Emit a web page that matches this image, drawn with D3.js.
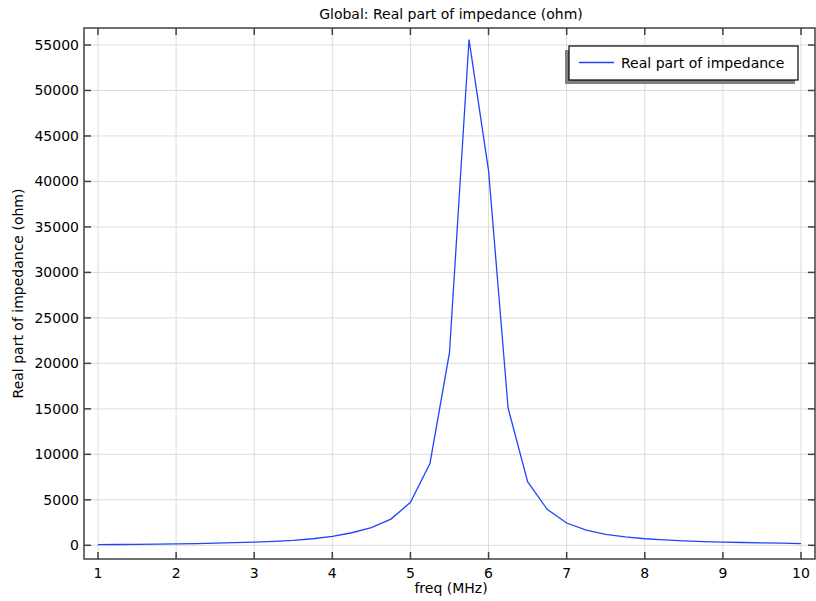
<!DOCTYPE html>
<meta charset="utf-8">
<style>
body { margin: 0; background: #fff; }
text { font-family: "DejaVu Sans", sans-serif; fill: #000; }
.grid line { stroke: #dcdcdc; stroke-width: 1; }
.frame { fill: none; stroke: #404040; stroke-width: 1.5; }
.tick { stroke: #404040; stroke-width: 1.5; }
</style>
<svg width="816" height="601"></svg>
<script src="https://d3js.org/d3.v7.min.js"></script>
<script>
// frequency (MHz) and real part of impedance (ohm)
var freq = [1, 1.25, 1.5, 1.75, 2, 2.25, 2.5, 2.75, 3, 3.25, 3.5, 3.75,
            4, 4.25, 4.5, 4.75, 5, 5.25, 5.5, 5.75, 6, 6.25, 6.5, 6.75,
            7, 7.25, 7.5, 7.75, 8, 8.25, 8.5, 8.75, 9, 9.25, 9.5, 9.75, 10];
var realZ = [70, 90, 110, 135, 165, 195, 235, 285, 350, 430, 540, 720,
             980, 1380, 1950, 2880, 4720, 9000, 21200, 55600, 41200, 15100, 7000, 3950,
             2450, 1680, 1200, 920, 720, 590, 490, 415, 355, 310, 270, 240, 195];

var xTicks = [1, 2, 3, 4, 5, 6, 7, 8, 9, 10];
var yTicks = [0, 5000, 10000, 15000, 20000, 25000, 30000, 35000, 40000, 45000, 50000, 55000];

var svg = d3.select("svg");
// plot box (note: "top" is taken by window.top, so use other names)
var boxL = 84, boxR = 815, boxT = 28, boxB = 559;

var x = d3.scaleLinear().domain([1, 10]).range([98, 801]);
var y = d3.scaleLinear().domain([0, 55000]).range([545.3, 45]);

//grid
var grid = svg.append("g").attr("class", "grid");
grid.selectAll(".gx").data(xTicks).enter().append("line")
    .attr("x1", d => x(d)).attr("x2", d => x(d))
    .attr("y1", boxT).attr("y2", boxB);
grid.selectAll(".gy").data(yTicks).enter().append("line")
    .attr("y1", d => y(d)).attr("y2", d => y(d))
    .attr("x1", boxL).attr("x2", boxR);

//the curve
var line = d3.line().x((d, i) => x(freq[i])).y(d => y(d));
svg.append("path").datum(realZ)
    .attr("d", line)
    .attr("fill", "none")
    .attr("stroke", "#1f45ff")
    .attr("stroke-width", 1.3);

//frame and inward ticks on all sides
svg.append("rect").attr("class", "frame")
    .attr("x", boxL).attr("y", boxT)
    .attr("width", boxR - boxL).attr("height", boxB - boxT);

var tl = 7;
var ticks = svg.append("g");
xTicks.forEach(function(d) {
  ticks.append("line").attr("class", "tick")
      .attr("x1", x(d)).attr("x2", x(d)).attr("y1", boxB).attr("y2", boxB - tl);
  ticks.append("line").attr("class", "tick")
      .attr("x1", x(d)).attr("x2", x(d)).attr("y1", boxT).attr("y2", boxT + tl);
});
yTicks.forEach(function(d) {
  ticks.append("line").attr("class", "tick")
      .attr("x1", boxL).attr("x2", boxL + tl).attr("y1", y(d)).attr("y2", y(d));
  ticks.append("line").attr("class", "tick")
      .attr("x1", boxR).attr("x2", boxR - tl).attr("y1", y(d)).attr("y2", y(d));
});

//tick labels
svg.append("g").selectAll("text").data(xTicks).enter().append("text")
    .attr("x", d => x(d)).attr("y", 578)
    .attr("text-anchor", "middle").style("font-size", "14px")
    .text(d => d);
svg.append("g").selectAll("text").data(yTicks).enter().append("text")
    .attr("x", 79).attr("y", d => y(d) + 5)
    .attr("text-anchor", "end").style("font-size", "14px")
    .text(d => d);

//titles
svg.append("text").attr("x", 451).attr("y", 19)
    .attr("text-anchor", "middle").style("font-size", "14px")
    .text("Global: Real part of impedance (ohm)");
svg.append("text").attr("x", 451).attr("y", 593)
    .attr("text-anchor", "middle").style("font-size", "14px")
    .text("freq (MHz)");
svg.append("text")
    .attr("transform", "translate(23," + ((boxT + boxB) / 2) + ") rotate(-90)")
    .attr("text-anchor", "middle").style("font-size", "14px")
    .text("Real part of impedance (ohm)");

//legend
var lg = svg.append("g");
lg.append("rect").attr("x", 565).attr("y", 50).attr("width", 230).attr("height", 34)
    .attr("fill", "#808080");
lg.append("rect").attr("x", 569).attr("y", 46).attr("width", 229).attr("height", 34)
    .attr("fill", "#fff").attr("stroke", "#000").attr("stroke-width", 1.2);
lg.append("line").attr("x1", 579).attr("x2", 614).attr("y1", 62.5).attr("y2", 62.5)
    .attr("stroke", "#1f45ff").attr("stroke-width", 1.3);
lg.append("text").attr("x", 621).attr("y", 67.5).style("font-size", "14px")
    .text("Real part of impedance");
</script>
